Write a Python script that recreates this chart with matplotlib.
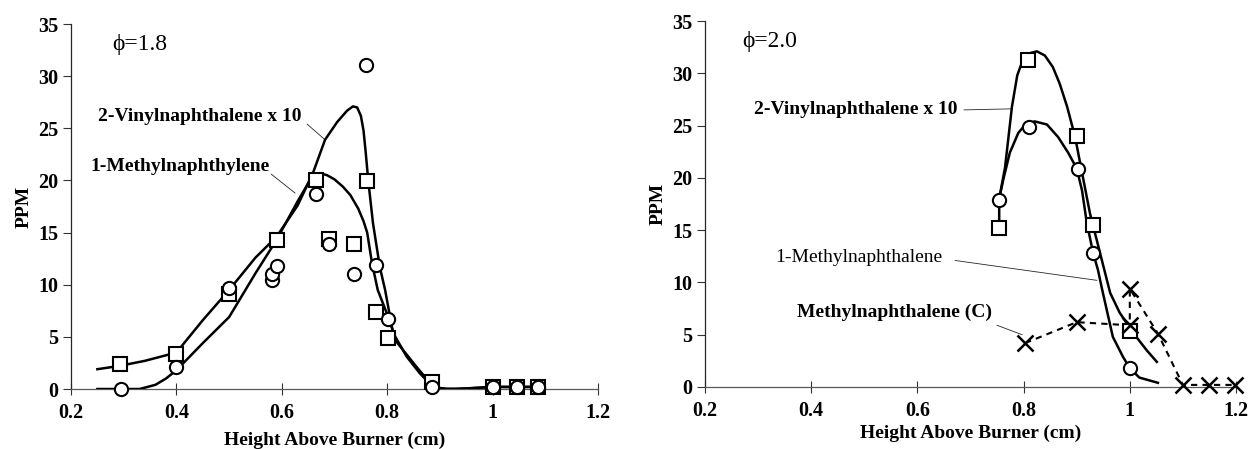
import matplotlib
matplotlib.use("Agg")
import matplotlib.pyplot as plt
import numpy as np

plt.rcParams['font.family'] = ['Liberation Serif', 'DejaVu Serif']
plt.rcParams['font.weight'] = 'bold'

# ---- phi = 1.8 : measured points ----
vin18_x = [0.293, 0.40, 0.50, 0.59, 0.665, 0.69, 0.737, 0.762, 0.779, 0.801, 0.885, 1.0, 1.046, 1.086]
vin18_y = [2.4, 3.4, 9.1, 14.3, 20.0, 14.4, 13.9, 19.9, 7.4, 4.9, 0.7, 0.15, 0.15, 0.15]
met18_x = [0.295, 0.40, 0.50, 0.581, 0.581, 0.59, 0.665, 0.69, 0.737, 0.76, 0.779, 0.802, 0.885, 1.0, 1.046, 1.086]
met18_y = [0.0, 2.1, 9.7, 10.5, 11.0, 11.8, 18.7, 13.9, 11.0, 31.1, 11.9, 6.7, 0.2, 0.15, 0.15, 0.15]

# ---- phi = 1.8 : fitted curves ----
vin18_fit_x = [0.25, 0.29, 0.34, 0.40, 0.45, 0.50, 0.55, 0.59, 0.63, 0.659, 0.682, 0.705, 0.724,
               0.735, 0.743, 0.750, 0.755, 0.759, 0.764, 0.773, 0.786, 0.796, 0.811, 0.837, 0.862,
               0.887, 0.913, 0.95, 1.0, 1.09]
vin18_fit_y = [1.9, 2.2, 2.7, 3.5, 6.6, 9.5, 12.6, 14.6, 17.6, 20.7, 23.9, 25.6, 26.7,
               27.1, 27.0, 26.2, 24.8, 22.8, 20.0, 15.9, 11.7, 9.5, 5.4, 3.1, 1.5,
               0.2, 0.0, 0.05, 0.2, 0.2]
met18_fit_x = [0.25, 0.33, 0.36, 0.38, 0.40, 0.45, 0.50, 0.55, 0.59, 0.63, 0.659, 0.672, 0.686,
               0.70, 0.716, 0.73, 0.745, 0.755, 0.762, 0.771, 0.782, 0.802, 0.818, 0.856, 0.881,
               0.90, 0.93, 1.0, 1.09]
met18_fit_y = [0.0, 0.0, 0.4, 1.0, 1.8, 4.4, 6.9, 11.1, 14.3, 18.0, 20.5, 20.7, 20.5,
               20.1, 19.4, 18.6, 17.3, 16.1, 15.0, 12.1, 9.5, 6.9, 4.5, 2.1, 0.6,
               0.05, 0.0, 0.2, 0.2]

# ---- phi = 2.0 : measured points ----
vin20_x = [0.754, 0.808, 0.90, 0.931, 1.0]
vin20_y = [15.2, 31.3, 24.0, 15.5, 5.4]
met20_x = [0.754, 0.81, 0.902, 0.931, 1.0]
met20_y = [17.9, 24.9, 20.8, 12.8, 1.8]
metc20_x = [0.803, 0.90, 1.0, 1.0, 1.053, 1.10, 1.15, 1.198]
metc20_y = [4.2, 6.2, 5.9, 9.4, 5.1, 0.2, 0.2, 0.2]

# ---- phi = 2.0 : fitted curves ----
vin20_fit_x = [0.754, 0.754, 0.765, 0.778, 0.788, 0.798, 0.81, 0.825, 0.84, 0.855, 0.868,
               0.882, 0.897, 0.91, 0.925, 0.944, 0.963, 0.981, 1.006, 1.032, 1.051]
vin20_fit_y = [15.2, 18.0, 21.0, 26.8, 29.8, 31.2, 31.9, 32.1, 31.7, 30.6, 29.0,
               26.8, 23.9, 20.5, 16.6, 12.8, 9.0, 7.1, 5.2, 3.5, 2.4]
met20_fit_x = [0.754, 0.762, 0.774, 0.79, 0.805, 0.821, 0.844, 0.865, 0.884, 0.90, 0.91,
               0.919, 0.931, 0.94, 0.948, 0.968, 0.987, 1.0, 1.018, 1.053]
met20_fit_y = [18.0, 19.9, 22.4, 24.3, 25.2, 25.4, 25.1, 23.9, 22.4, 20.9, 18.8,
               15.7, 12.8, 11.2, 9.3, 4.8, 2.9, 1.8, 0.9, 0.4]

xticks = [0.2, 0.4, 0.6, 0.8, 1.0, 1.2]
xtick_labels = ['0.2', '0.4', '0.6', '0.8', '1', '1.2']
yticks = [0, 5, 10, 15, 20, 25, 30, 35]


def style_axes(ax, xpad=4):
    ax.set_xlim(0.2, 1.2)
    ax.set_ylim(0, 35)
    for s in ['top', 'right']:
        ax.spines[s].set_visible(False)
    ax.spines['left'].set_color('0.15')
    ax.spines['bottom'].set_color('0.35')
    ax.spines['left'].set_linewidth(0.9)
    ax.spines['bottom'].set_linewidth(0.9)
    ax.set_xticks(xticks)
    ax.set_xticklabels(xtick_labels)
    ax.set_yticks(yticks)
    ax.tick_params(axis='x', direction='inout', length=8, width=0.8, color='0.2',
                   labelsize=14.5, pad=6)
    ax.tick_params(axis='y', direction='out', length=6, width=0.8, color='0.2',
                   labelsize=14.5, pad=3)
    for lab in ax.get_xticklabels() + ax.get_yticklabels():
        lab.set_fontweight('bold')
    ax.set_xlabel('Height Above Burner (cm)', fontsize=14, fontweight='bold', labelpad=xpad)
    ax.set_ylabel('PPM', fontsize=14, fontweight='bold', labelpad=4)


def leader(ax, x, y, lw=0.6):
    ax.plot(x, y, color='0.15', lw=lw, clip_on=False)


mk = dict(markerfacecolor='white', markeredgecolor='black', markeredgewidth=1.5,
          linestyle='none', zorder=5, clip_on=False)

fig = plt.figure(figsize=(12.51, 4.49), dpi=100)
ax1 = fig.add_axes([0.0568, 0.1336, 0.4212, 0.8129])
ax2 = fig.add_axes([0.5636, 0.1381, 0.4244, 0.8151])

# phi = 1.8
ax1.plot(vin18_fit_x, vin18_fit_y, color='black', lw=1.8, zorder=3)
ax1.plot(met18_fit_x, met18_fit_y, color='black', lw=1.8, zorder=3)
ax1.plot(vin18_x, vin18_y, marker='s', markersize=10, **mk)
ax1.plot(met18_x, met18_y, marker='o', markersize=9.5, **mk)
ax1.text(0.278, 33.0, '\u03d5=1.8', fontsize=17, fontweight='normal', ha='left', va='center')
ax1.text(0.445, 26.1, '2-Vinylnaphthalene x 10', fontsize=14, ha='center', va='center')
leader(ax1, [0.648, 0.682], [25.4, 23.9])
ax1.text(0.407, 21.3, '1-Methylnaphthylene', fontsize=14, ha='center', va='center')
leader(ax1, [0.580, 0.625], [20.6, 18.8])
style_axes(ax1, xpad=6)

# phi = 2.0
ax2.plot(vin20_fit_x, vin20_fit_y, color='black', lw=1.8, zorder=3)
ax2.plot(met20_fit_x, met20_fit_y, color='black', lw=1.8, zorder=3)
ax2.plot(metc20_x, metc20_y, color='black', lw=1.5, linestyle=(0, (3, 2.5)), zorder=3,
         clip_on=False)
ax2.plot(vin20_x, vin20_y, marker='s', markersize=10, **mk)
ax2.plot(met20_x, met20_y, marker='o', markersize=9.5, **mk)
ax2.plot(metc20_x, metc20_y, marker='x', markersize=11, markeredgewidth=1.8, color='black',
         linestyle='none', zorder=6, clip_on=False)
ax2.text(0.27, 33.0, '\u03d5=2.0', fontsize=17, fontweight='normal', ha='left', va='center')
ax2.text(0.484, 26.5, '2-Vinylnaphthalene x 10', fontsize=14, ha='center', va='center')
leader(ax2, [0.688, 0.778], [26.5, 26.6])
ax2.text(0.49, 12.4, '1-Methylnaphthalene', fontsize=14, fontweight='normal',
         ha='center', va='center')
leader(ax2, [0.671, 0.938], [12.1, 10.2])
ax2.text(0.556, 7.1, 'Methylnaphthalene (C)', fontsize=14, ha='center', va='center')
leader(ax2, [0.75, 0.797], [5.9, 5.0])
style_axes(ax2, xpad=3)

fig.savefig('out.png', dpi=100)
